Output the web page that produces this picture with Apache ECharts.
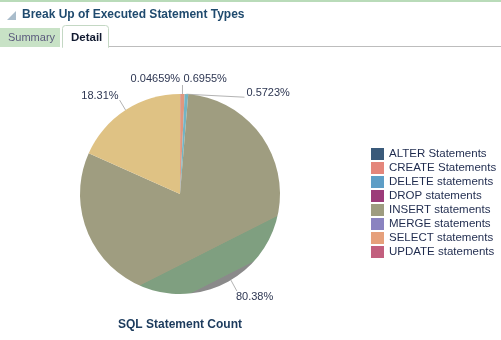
<!DOCTYPE html>
<html>
<head>
<meta charset="utf-8">
<script src="https://cdn.jsdelivr.net/npm/echarts@6/dist/echarts.min.js"></script>
<style>
  html, body { margin: 0; padding: 0; background: #ffffff; }
  #chart { width: 501px; height: 340px; }
</style>
</head>
<body>
<div id="chart"></div>
<script>
// Statement types and their share of executed statements (percent)
const statementTypes = [
  'ALTER Statements', 'CREATE Statements', 'DELETE statements', 'DROP statements',
  'INSERT statements', 'MERGE statements', 'SELECT statements', 'UPDATE statements'
];
const sharePercent = [0.04659, 0.6955, 0.5723, 0, 80.38, 0, 18.31, 0];

// Legend swatch colours and slice colours
const legendColors = ['#3a5a7a', '#e4867b', '#5e9ec6', '#9c3b79', '#9e9c80', '#8a83c0', '#e6a07b', '#c25f7e'];
const sliceColors  = ['#3a5a7a', '#e1977e', '#72b4c4', '#9c3b79', '#9f9d80', '#8a83c0', '#dfc284', '#c25f7e'];

const headerTitle = 'Break Up of Executed Statement Types';
const tabNames = ['Summary', 'Detail'];
const chartCaption = 'SQL Statement Count';

const FONT = '"Liberation Sans", Arial, sans-serif';

// Shaded fill used for the large INSERT slice
const insertFill = {
  type: 'linear', x: 0.275, y: 0.054, x2: 0.725, y2: 0.946,
  colorStops: [
    { offset: 0, color: '#9f9d80' },
    { offset: 0.816, color: '#9f9d80' },
    { offset: 0.819, color: '#7f9f80' },
    { offset: 0.966, color: '#7f9f80' },
    { offset: 0.969, color: '#8a8a8a' },
    { offset: 1, color: '#8a8a8a' }
  ]
};

// Label offsets relative to each slice's edge anchor
const labelPlacement = {
  0: { dx: 0,  dy: -15, align: 'right', line: null },
  1: { dx: 1,  dy: -15, align: 'left',  line: [0, -9] },
  2: { dx: 60, dy: -1,  align: 'left',  line: [58, 3] },
  4: { dx: 5,  dy: 17,  align: 'left',  line: [6, 11] },
  6: { dx: -7, dy: -14, align: 'right', line: [-6, -10] }
};

const pieData = statementTypes.map((name, i) => {
  const item = {
    name: name,
    value: sharePercent[i],
    itemStyle: { color: i === 4 ? insertFill : sliceColors[i] }
  };
  if (!labelPlacement[i]) {
    item.label = { show: false };
    item.labelLine = { show: false };
  }
  return item;
});

const chart = echarts.init(document.getElementById('chart'), null, { renderer: 'canvas' });

chart.setOption({
  animation: false,
  backgroundColor: '#ffffff',
  title: [
    {
      text: headerTitle, left: 22, top: 8, padding: 0,
      textStyle: { fontFamily: FONT, fontSize: 12, fontWeight: 'bold', color: '#1f4a6e', lineHeight: 14 }
    },
    {
      text: chartCaption, left: 180, top: 318, padding: 0, textAlign: 'center',
      textStyle: { fontFamily: FONT, fontSize: 12, fontWeight: 'bold', color: '#1b3a5c', lineHeight: 14 }
    }
  ],
  graphic: [
    { type: 'rect', shape: { x: 0, y: 0, width: 501, height: 2 }, style: { fill: '#b9dbb9' }, silent: true },
    { type: 'polygon', shape: { points: [[7, 20], [16, 20], [16, 11]] }, style: { fill: '#a9bccb' }, silent: true },
    { type: 'rect', shape: { x: 0, y: 28, width: 60, height: 19 }, style: { fill: '#c8e2c6' }, silent: true },
    { type: 'line', shape: { x1: 108, y1: 46.5, x2: 501, y2: 46.5 }, style: { stroke: '#bdbdbd', lineWidth: 1 }, silent: true },
    { type: 'rect', shape: { x: 62.5, y: 25.5, width: 46, height: 22, r: [3, 3, 0, 0] }, style: { fill: '#ffffff', stroke: '#c4d8c4', lineWidth: 1 }, silent: true },
    { type: 'rect', shape: { x: 63, y: 45, width: 45, height: 3 }, style: { fill: '#ffffff' }, silent: true },
    { type: 'text', x: 8, y: 38, style: { text: tabNames[0], fontFamily: FONT, fontSize: 11, fill: '#5b5a7d', verticalAlign: 'middle' }, silent: true },
    { type: 'text', x: 71, y: 38, style: { text: tabNames[1], fontFamily: FONT, fontSize: 11.5, fontWeight: 'bold', fill: '#111a30', verticalAlign: 'middle' }, silent: true }
  ],
  legend: {
    orient: 'vertical',
    left: 371, top: 148,
    padding: 0,
    itemWidth: 13, itemHeight: 12, itemGap: 2,
    icon: 'rect',
    selectedMode: false,
    textStyle: { fontFamily: FONT, fontSize: 11.5, color: '#1f2b4e', lineHeight: 12 },
    data: statementTypes.map((name, i) => ({ name: name, itemStyle: { color: legendColors[i] } }))
  },
  series: [{
    type: 'pie',
    center: [180, 194],
    radius: 100,
    startAngle: 90,
    clockwise: true,
    avoidLabelOverlap: false,
    emphasis: { disabled: true },
    label: {
      show: true, position: 'outside', formatter: '{c}%',
      fontFamily: FONT, fontSize: 11, color: '#2d3652'
    },
    labelLine: { show: true, length: 8, length2: 0, lineStyle: { color: '#b3b3b3', width: 1 } },
    labelLayout: function (p) {
      const cfg = labelPlacement[p.dataIndex];
      if (!cfg || !p.labelLinePoints) return {};
      const a = p.labelLinePoints[0];
      const end = cfg.line ? [a[0] + cfg.line[0], a[1] + cfg.line[1]] : [a[0], a[1]];
      return {
        x: a[0] + cfg.dx,
        y: a[1] + cfg.dy,
        align: cfg.align,
        verticalAlign: 'middle',
        labelLinePoints: [[a[0], a[1]], end]
      };
    },
    data: pieData
  }]
});
</script>
</body>
</html>
